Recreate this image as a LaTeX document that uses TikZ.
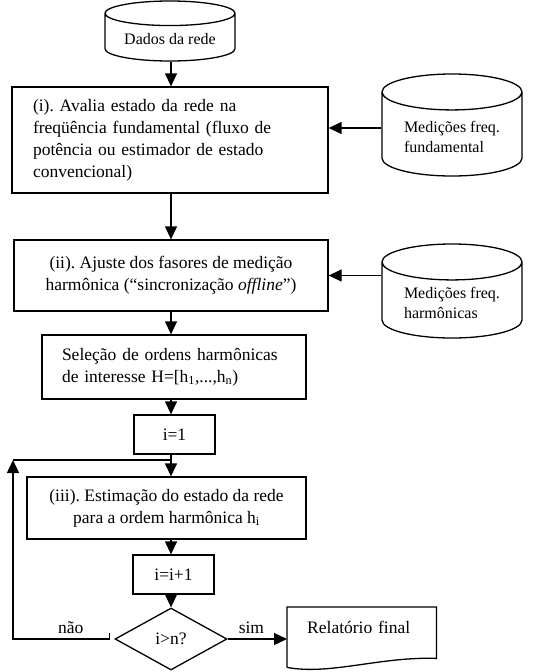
\documentclass[tikz,border=0pt]{standalone}
\usepackage{fontspec}
\setmainfont{Liberation Serif}
\usetikzlibrary{shapes,arrows.meta,calc}
\frenchspacing

\begin{document}
\begin{tikzpicture}[x=1pt,y=-1pt,
        every node/.style={font=\fontsize{17.5}{22}\selectfont},
        proc/.style={draw, rectangle, line width=1.3pt},
        base/.style={draw, cylinder, shape border rotate=90, aspect=0.25, anchor=shape center, line width=1.3pt, align=left, font=\fontsize{16}{20}\selectfont},
        arr/.style={line width=1.3pt, -{Triangle[length=13pt,width=12pt]}},
        lin/.style={line width=1.3pt}]
        \useasboundingbox (0,0) rectangle (539,672);
        \coordinate (spine) at (171,0);     % x of the main flow line

        % data sources
        \node[base, minimum width=130pt, minimum height=60pt] (dados) at (170,31) {Dados da rede};
        \node[base, minimum width=140pt, minimum height=102pt, aspect=0.35] (medfund) at (452,125) {Medições freq.\\fundamental};
        \node[base, minimum width=140pt, minimum height=94pt, aspect=0.35] (medharm) at (452,291) {Medições freq.\\harmônicas};

        % process steps
        \node[proc, align=left, text width=274pt, inner xsep=21pt, minimum height=106pt] (aval) at (170,140)
            {(i). Avalia estado da rede na\\freqüência fundamental (fluxo de\\potência ou estimador de estado\\convencional)};
        \node[proc, align=center, minimum width=314pt, minimum height=71pt] (ajuste) at (171,275.5)
            {(ii). Ajuste dos fasores de medição\\harmônica (“sincronização \textit{offline}”)};
        \node[proc, align=left, text width=224pt, inner xsep=20pt, minimum height=64pt] (selec) at (174,367)
            {Seleção de ordens harmônicas\\de interesse H=[h\textsubscript{1},...,h\textsubscript{n})};
        \node[proc, minimum width=81pt, minimum height=39pt] (init) at (174.5,434.5) {i=1};
        \node[proc, align=center, minimum width=279pt, minimum height=62pt] (estim) at (166.5,508)
            {(iii). Estimação do estado da rede\\para a ordem harmônica h\textsubscript{i}};
        \node[proc, minimum width=81pt, minimum height=39pt] (incr) at (173.5,574.5) {i=i+1};
        \node[draw, diamond, line width=1.3pt, aspect=1.8, inner sep=1pt, minimum width=112pt, minimum height=62pt] (teste) at (171,639) {i>n?};
        \node[anchor=north west, minimum width=149pt, text height=18pt, text depth=26pt, inner ysep=8pt, inner xsep=20pt, align=left, text width=109pt] (relat) at (287,607) {\mbox{Relatório final}};
        \coordinate (volta) at (13,460);    % corner of the feedback loop

        % document outline with wavy bottom
        \draw[lin] (relat.south west) -- (relat.north west) -- (relat.north east) -- ($(relat.south east)+(0,-9)$)
            .. controls ($(relat.south east)+(-56,-11)$) and ($(relat.south west)+(43,8)$) .. (relat.south west);

        % flow
        \draw[arr] (dados.bottom -| spine) -- (aval.north -| spine);
        \draw[arr] (medfund.west |- 0,128) -- (aval.east |- 0,128);
        \draw[arr] (aval.south -| spine) -- (ajuste.north -| spine);
        \draw[arr] (ajuste.east -| medharm.west) -- (ajuste.east);
        \draw[arr] (ajuste.south -| spine) -- (selec.north -| spine);
        \draw[arr] (selec.south -| spine) -- (init.north -| spine);
        \draw[arr] (init.south -| spine) -- (estim.north -| spine);
        \draw[arr] (estim.south -| spine) -- (incr.north -| spine);
        \draw[arr] (incr.south -| spine) -- (teste.north);
        \draw[arr] (teste.east) -- (relat.west |- teste.east) node[pos=0.4, above=1pt] {sim};
        \draw[arr] ($(teste.west)+(-5,-6)$) -- ($(teste.west)+(-5,0)$) -- (volta |- teste.west) node[pos=0.4, above=1pt] {não} -- (volta);
        \draw[lin] (volta) -- (volta -| spine);
\end{tikzpicture}
\end{document}
